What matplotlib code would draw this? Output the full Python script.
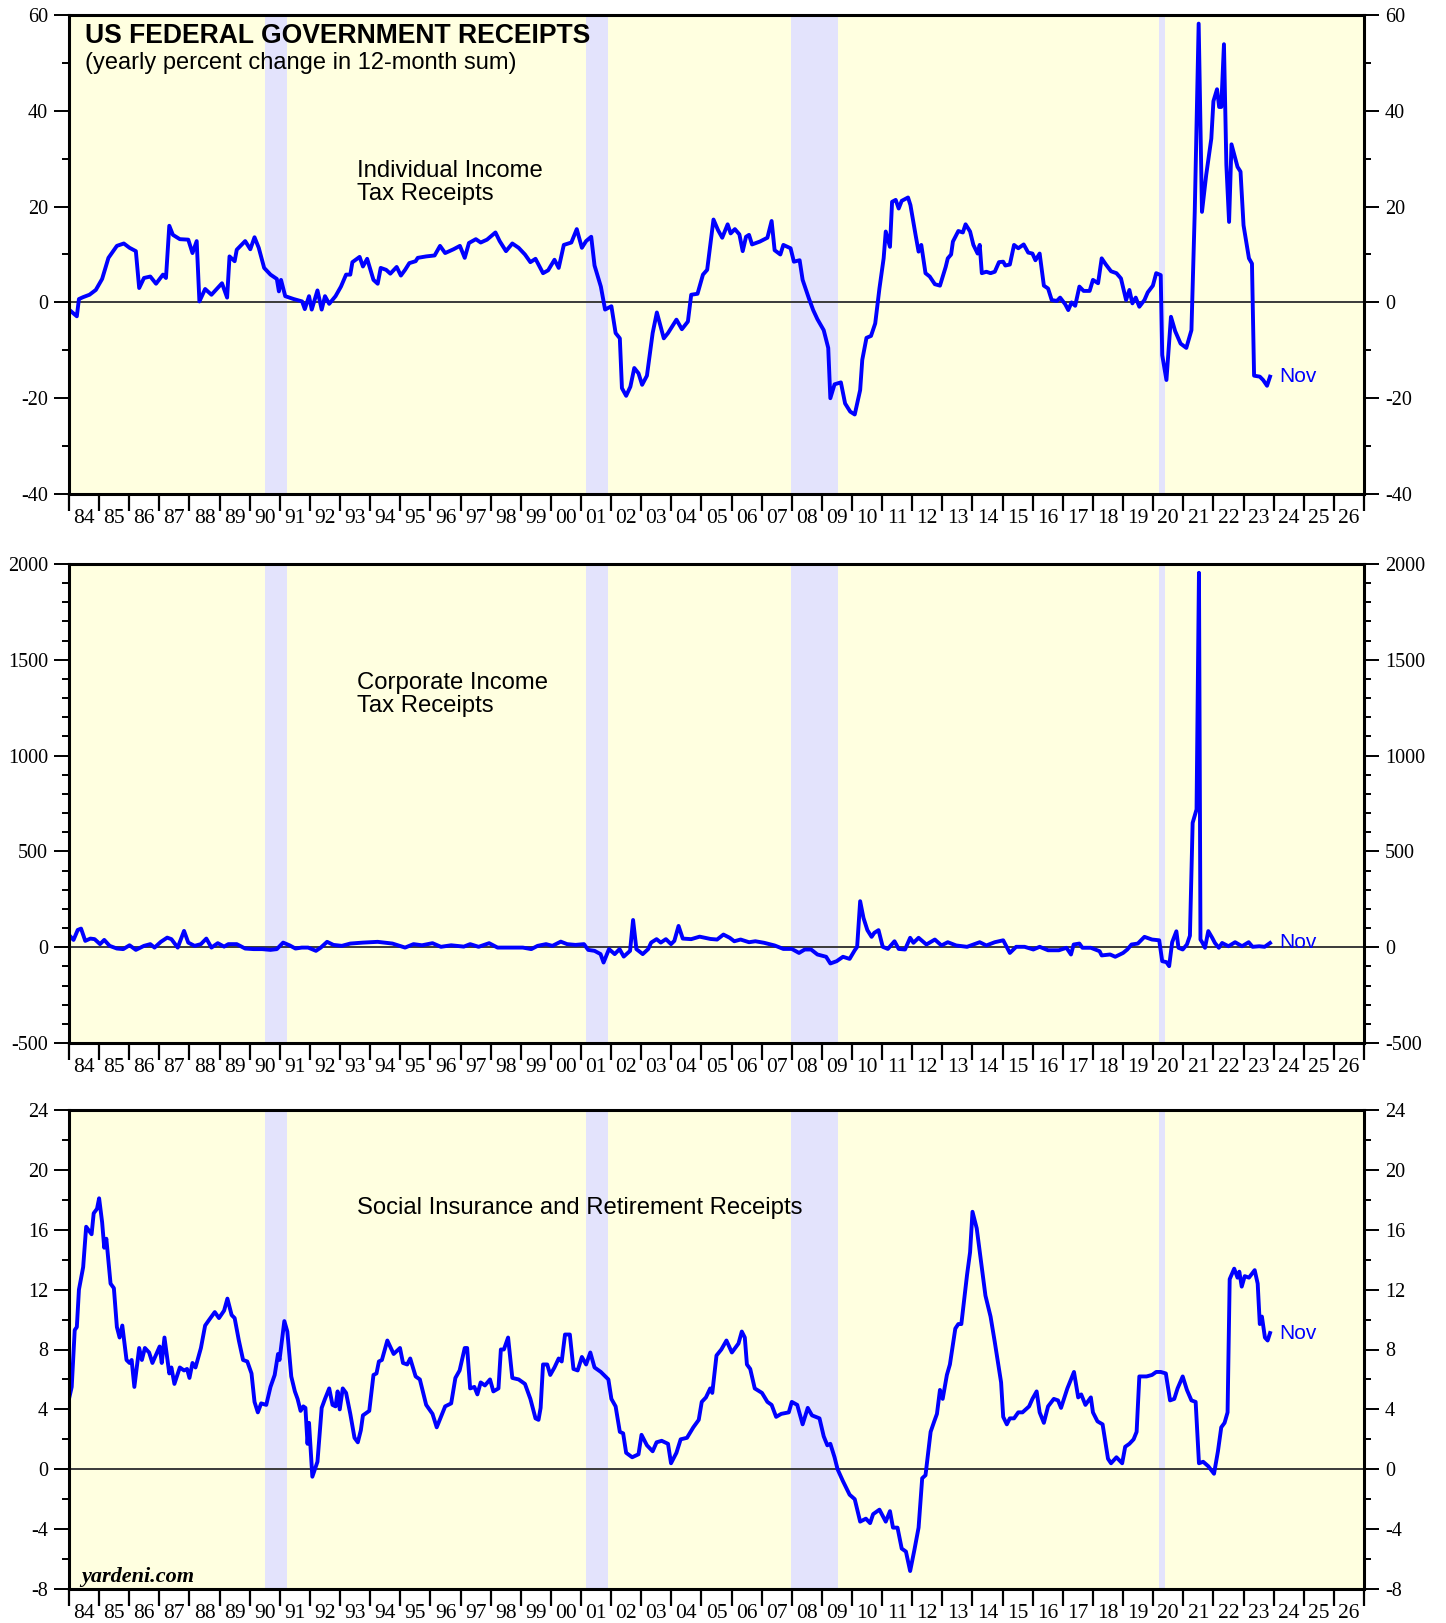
import numpy as np
import matplotlib
matplotlib.use("Agg")
import matplotlib.pyplot as plt
from matplotlib.ticker import MultipleLocator

plt.rcParams["axes.unicode_minus"] = False

# individual income tax receipts, yearly % change in 12-month sum
inc_t = [1984.00, 1984.26, 1984.33, 1984.47, 1984.68, 1984.89, 1985.10, 1985.31, 1985.59, 1985.82,
         1986.01, 1986.22, 1986.33, 1986.49, 1986.70, 1986.89, 1987.12, 1987.22, 1987.33, 1987.45,
         1987.68, 1987.96, 1988.10, 1988.24, 1988.33, 1988.52, 1988.73, 1989.08, 1989.25, 1989.33,
         1989.50, 1989.57, 1989.85, 1990.02, 1990.16, 1990.30, 1990.48, 1990.69, 1990.90, 1990.97,
         1991.04, 1991.18, 1991.46, 1991.74, 1991.83, 1991.97, 1992.06, 1992.25, 1992.39, 1992.50,
         1992.64, 1992.85, 1993.03, 1993.20, 1993.34, 1993.41, 1993.65, 1993.76, 1993.90, 1994.11,
         1994.25, 1994.35, 1994.53, 1994.67, 1994.88, 1995.02, 1995.16, 1995.30, 1995.51, 1995.58,
         1995.86, 1996.14, 1996.32, 1996.49, 1996.77, 1996.98, 1997.14, 1997.28, 1997.51, 1997.67,
         1997.88, 1998.16, 1998.30, 1998.51, 1998.72, 1998.93, 1999.14, 1999.32, 1999.49, 1999.74,
         1999.91, 2000.12, 2000.26, 2000.43, 2000.68, 2000.86, 2001.03, 2001.17, 2001.34, 2001.45,
         2001.66, 2001.80, 2002.01, 2002.15, 2002.29, 2002.36, 2002.50, 2002.64, 2002.77, 2002.91,
         2003.03, 2003.19, 2003.38, 2003.52, 2003.75, 2003.89, 2004.17, 2004.35, 2004.55, 2004.66,
         2004.87, 2005.05, 2005.19, 2005.40, 2005.55, 2005.69, 2005.87, 2005.97, 2006.11, 2006.26,
         2006.37, 2006.48, 2006.58, 2006.68, 2006.94, 2007.19, 2007.33, 2007.43, 2007.62, 2007.72,
         2007.96, 2008.07, 2008.26, 2008.36, 2008.57, 2008.71, 2008.85, 2009.06, 2009.21, 2009.28,
         2009.42, 2009.63, 2009.77, 2009.94, 2010.09, 2010.27, 2010.34, 2010.48, 2010.63, 2010.77,
         2010.91, 2011.05, 2011.12, 2011.26, 2011.33, 2011.45, 2011.55, 2011.65, 2011.86, 2011.94,
         2012.11, 2012.21, 2012.30, 2012.44, 2012.58, 2012.75, 2012.92, 2013.11, 2013.18, 2013.29,
         2013.35, 2013.53, 2013.68, 2013.77, 2013.92, 2014.03, 2014.17, 2014.24, 2014.31, 2014.46,
         2014.60, 2014.74, 2014.88, 2015.02, 2015.09, 2015.24, 2015.38, 2015.52, 2015.70, 2015.85,
         2015.99, 2016.09, 2016.23, 2016.37, 2016.51, 2016.63, 2016.80, 2016.91, 2017.08, 2017.18,
         2017.29, 2017.41, 2017.55, 2017.69, 2017.89, 2018.00, 2018.17, 2018.29, 2018.43, 2018.60,
         2018.78, 2018.93, 2019.02, 2019.10, 2019.21, 2019.31, 2019.42, 2019.54, 2019.71, 2019.82,
         2019.99, 2020.10, 2020.25, 2020.30, 2020.44, 2020.59, 2020.73, 2020.91, 2021.10, 2021.27,
         2021.38, 2021.51, 2021.62, 2021.76, 2021.93, 2022.00, 2022.12, 2022.19, 2022.26, 2022.35,
         2022.43, 2022.52, 2022.60, 2022.80, 2022.90, 2023.00, 2023.18, 2023.28, 2023.35, 2023.54,
         2023.65, 2023.78, 2023.88]
inc_v = [-1.5, -2.9, 0.7, 1.1, 1.6, 2.6, 4.9, 9.3, 11.8, 12.3,
         11.4, 10.7, 3.0, 5.1, 5.4, 3.9, 5.8, 5.1, 16.0, 14.1,
         13.2, 13.1, 10.3, 12.8, 0.2, 2.8, 1.6, 4.0, 1.0, 9.6,
         8.6, 11.0, 12.8, 11.1, 13.6, 11.4, 7.2, 5.8, 4.9, 2.3,
         4.7, 1.3, 0.7, 0.2, -1.4, 1.3, -1.5, 2.5, -1.5, 1.3,
         -0.3, 1.3, 3.3, 5.8, 5.8, 8.4, 9.5, 7.5, 9.1, 4.7,
         3.9, 7.2, 6.8, 6.0, 7.4, 5.6, 6.8, 8.2, 8.6, 9.3,
         9.6, 9.8, 11.8, 10.3, 11.1, 11.8, 9.3, 12.4, 13.2, 12.5,
         13.1, 14.6, 12.8, 10.7, 12.3, 11.4, 10.0, 8.4, 9.1, 6.1,
         6.7, 8.9, 7.2, 12.0, 12.5, 15.3, 11.4, 12.8, 13.7, 7.7,
         3.3, -1.5, -0.8, -6.4, -7.5, -17.9, -19.5, -17.6, -13.7, -14.8,
         -17.2, -15.3, -6.4, -2.1, -7.5, -6.4, -3.6, -5.6, -4.0, 1.6,
         1.8, 5.8, 6.8, 17.3, 15.1, 13.5, 16.3, 14.4, 15.3, 14.2,
         10.7, 13.7, 14.1, 12.1, 12.7, 13.5, 17.0, 10.9, 10.0, 12.0,
         11.3, 8.5, 8.8, 4.7, 0.8, -1.6, -3.5, -5.8, -9.5, -20.0,
         -17.1, -16.7, -21.1, -22.8, -23.4, -18.3, -12.0, -7.4, -7.0, -4.4,
         2.9, 9.2, 14.8, 11.6, 21.0, 21.4, 19.6, 21.2, 21.9, 20.3,
         14.1, 10.6, 12.0, 6.1, 5.4, 3.8, 3.5, 7.4, 9.2, 10.0,
         12.7, 14.9, 14.6, 16.3, 14.8, 12.0, 10.2, 12.0, 6.1, 6.4,
         6.1, 6.4, 8.4, 8.5, 7.7, 7.9, 12.0, 11.3, 12.1, 10.4,
         10.2, 8.8, 10.2, 3.5, 2.9, 0.5, 0.3, 1.0, -0.4, -1.6,
         0.0, -0.7, 3.3, 2.4, 2.4, 4.7, 4.0, 9.2, 7.9, 6.5,
         6.1, 5.0, 2.6, 0.5, 2.6, -0.2, 1.0, -0.9, 0.5, 2.1,
         3.5, 6.1, 5.7, -11.0, -16.2, -3.0, -6.0, -8.6, -9.5, -5.8,
         18.9, 58.2, 18.9, 26.6, 34.2, 42.0, 44.5, 40.8, 40.8, 53.9,
         28.7, 16.8, 33.0, 28.3, 27.3, 16.1, 9.2, 8.1, -15.3, -15.5,
         -16.2, -17.4, -15.5]

# corporate income tax receipts
corp_t = [1984.01, 1984.15, 1984.29, 1984.40, 1984.54, 1984.71, 1984.85, 1985.03, 1985.17, 1985.35,
          1985.59, 1985.80, 1986.01, 1986.22, 1986.49, 1986.70, 1986.84, 1987.05, 1987.26, 1987.40,
          1987.61, 1987.82, 1987.96, 1988.17, 1988.38, 1988.56, 1988.73, 1988.94, 1989.15, 1989.29,
          1989.57, 1989.85, 1990.13, 1990.41, 1990.69, 1990.90, 1991.11, 1991.32, 1991.52, 1991.73,
          1991.94, 1992.20, 1992.36, 1992.57, 1992.78, 1993.06, 1993.34, 1993.76, 1994.25, 1994.74,
          1995.16, 1995.44, 1995.72, 1996.07, 1996.35, 1996.69, 1997.11, 1997.32, 1997.60, 1997.95,
          1998.23, 1998.65, 1999.07, 1999.35, 1999.56, 1999.84, 2000.05, 2000.33, 2000.54, 2000.82,
          2001.10, 2001.24, 2001.45, 2001.65, 2001.75, 2001.93, 2002.12, 2002.28, 2002.42, 2002.63,
          2002.73, 2002.84, 2003.05, 2003.23, 2003.33, 2003.51, 2003.65, 2003.82, 2003.99, 2004.10,
          2004.24, 2004.38, 2004.66, 2004.94, 2005.30, 2005.52, 2005.73, 2005.94, 2006.09, 2006.30,
          2006.58, 2006.79, 2007.08, 2007.43, 2007.72, 2008.00, 2008.24, 2008.43, 2008.64, 2008.85,
          2009.14, 2009.28, 2009.49, 2009.70, 2009.92, 2010.09, 2010.17, 2010.27, 2010.38, 2010.51,
          2010.65, 2010.74, 2010.88, 2011.02, 2011.19, 2011.41, 2011.55, 2011.76, 2011.93, 2012.04,
          2012.21, 2012.47, 2012.75, 2012.97, 2013.18, 2013.46, 2013.82, 2014.24, 2014.46, 2014.74,
          2015.02, 2015.24, 2015.45, 2015.73, 2016.02, 2016.23, 2016.51, 2016.87, 2017.12, 2017.27,
          2017.36, 2017.55, 2017.65, 2017.93, 2018.22, 2018.29, 2018.57, 2018.74, 2019.00, 2019.14,
          2019.28, 2019.49, 2019.71, 2019.96, 2020.20, 2020.30, 2020.44, 2020.53, 2020.63, 2020.77,
          2020.84, 2020.98, 2021.12, 2021.22, 2021.31, 2021.44, 2021.52, 2021.57, 2021.64, 2021.72,
          2021.83, 2021.96, 2022.05, 2022.18, 2022.29, 2022.50, 2022.72, 2022.95, 2023.17, 2023.30,
          2023.52, 2023.70, 2023.88]
corp_v = [62, 38, 90, 97, 33, 45, 42, 16, 38, 7,
          -7, -10, 10, -14, 7, 16, -2, 28, 50, 42,
          -2, 85, 24, 7, 16, 45, -2, 21, 3, 16,
          16, -7, -10, -10, -14, -10, 24, 10, -7, -2,
          -2, -19, -2, 28, 12, 7, 19, 24, 28, 19,
          -2, 16, 10, 21, 2, 10, 3, 16, 2, 21,
          -2, -2, -2, -10, 7, 16, 7, 29, 16, 12,
          16, -14, -19, -36, -80, -10, -36, -10, -49, -19,
          142, -10, -36, -10, 24, 42, 24, 42, 16, 33,
          111, 45, 42, 55, 43, 40, 66, 49, 31, 40,
          26, 31, 23, 9, -9, -9, -30, -12, -12, -38,
          -50, -85, -73, -50, -61, -16, 2, 240, 153, 89,
          54, 75, 89, 2, -9, 31, -9, -12, 49, 23,
          49, 14, 40, 9, 26, 9, 2, 26, 9, 26,
          36, -30, 2, 2, -12, 2, -16, -16, -3, -38,
          14, 19, -3, -3, -21, -43, -38, -50, -30, -12,
          14, 19, 54, 40, 36, -73, -78, -99, 26, 83,
          -3, -12, 14, 60, 649, 719, 1954, 40, 22, -3,
          84, 49, 22, -3, 22, 5, 26, 5, 26, 2,
          5, 2, 22]

# social insurance and retirement receipts
soc_t = [1984.00, 1984.09, 1984.19, 1984.26, 1984.33, 1984.47, 1984.57, 1984.75, 1984.82, 1984.93,
         1985.00, 1985.10, 1985.17, 1985.24, 1985.38, 1985.49, 1985.59, 1985.68, 1985.77, 1985.91,
         1986.01, 1986.08, 1986.17, 1986.33, 1986.42, 1986.52, 1986.66, 1986.77, 1987.01, 1987.08,
         1987.17, 1987.33, 1987.40, 1987.50, 1987.68, 1987.82, 1987.92, 1988.00, 1988.10, 1988.20,
         1988.38, 1988.52, 1988.66, 1988.84, 1988.98, 1989.15, 1989.26, 1989.40, 1989.50, 1989.64,
         1989.78, 1989.92, 1990.06, 1990.16, 1990.27, 1990.38, 1990.55, 1990.69, 1990.83, 1990.94,
         1990.99, 1991.15, 1991.25, 1991.38, 1991.50, 1991.59, 1991.69, 1991.78, 1991.85, 1991.92,
         1991.97, 1992.08, 1992.25, 1992.39, 1992.50, 1992.64, 1992.75, 1992.85, 1992.92, 1992.99,
         1993.09, 1993.20, 1993.34, 1993.48, 1993.59, 1993.69, 1993.76, 1993.97, 1994.11, 1994.21,
         1994.29, 1994.39, 1994.57, 1994.78, 1994.99, 1995.09, 1995.23, 1995.33, 1995.51, 1995.65,
         1995.86, 1996.07, 1996.21, 1996.35, 1996.49, 1996.69, 1996.83, 1996.97, 1997.14, 1997.22,
         1997.32, 1997.46, 1997.56, 1997.67, 1997.81, 1997.98, 1998.09, 1998.26, 1998.34, 1998.44,
         1998.58, 1998.72, 1998.93, 1999.14, 1999.32, 1999.49, 1999.59, 1999.66, 1999.74, 1999.88,
         1999.98, 2000.12, 2000.26, 2000.36, 2000.47, 2000.63, 2000.75, 2000.89, 2001.03, 2001.17,
         2001.31, 2001.45, 2001.66, 2001.91, 2002.01, 2002.15, 2002.29, 2002.40, 2002.50, 2002.70,
         2002.91, 2003.01, 2003.19, 2003.38, 2003.51, 2003.68, 2003.89, 2003.99, 2004.17, 2004.31,
         2004.52, 2004.73, 2004.91, 2005.01, 2005.15, 2005.29, 2005.36, 2005.50, 2005.66, 2005.83,
         2006.01, 2006.23, 2006.34, 2006.44, 2006.51, 2006.62, 2006.77, 2007.01, 2007.19, 2007.33,
         2007.48, 2007.65, 2007.90, 2008.00, 2008.18, 2008.36, 2008.53, 2008.67, 2008.92, 2009.06,
         2009.18, 2009.28, 2009.42, 2009.52, 2009.70, 2009.92, 2010.09, 2010.27, 2010.46, 2010.60,
         2010.70, 2010.91, 2011.12, 2011.26, 2011.36, 2011.51, 2011.65, 2011.79, 2011.93, 2012.07,
         2012.21, 2012.33, 2012.44, 2012.61, 2012.73, 2012.82, 2012.92, 2013.01, 2013.15, 2013.25,
         2013.43, 2013.53, 2013.63, 2013.82, 2013.92, 2014.00, 2014.14, 2014.43, 2014.60, 2014.74,
         2014.95, 2015.02, 2015.14, 2015.24, 2015.38, 2015.52, 2015.66, 2015.88, 2015.99, 2016.13,
         2016.23, 2016.37, 2016.51, 2016.70, 2016.84, 2016.94, 2017.15, 2017.37, 2017.51, 2017.61,
         2017.75, 2017.93, 2018.00, 2018.15, 2018.32, 2018.50, 2018.60, 2018.78, 2018.97, 2019.07,
         2019.21, 2019.35, 2019.45, 2019.54, 2019.78, 2019.96, 2020.10, 2020.25, 2020.42, 2020.56,
         2020.70, 2020.81, 2020.98, 2021.12, 2021.27, 2021.41, 2021.52, 2021.66, 2021.83, 2022.02,
         2022.15, 2022.26, 2022.37, 2022.47, 2022.54, 2022.69, 2022.80, 2022.86, 2022.94, 2023.04,
         2023.18, 2023.37, 2023.47, 2023.54, 2023.61, 2023.71, 2023.80, 2023.88]
soc_v = [4.7, 5.5, 9.3, 9.5, 12.0, 13.5, 16.2, 15.7, 17.1, 17.4,
         18.1, 16.5, 14.8, 15.4, 12.4, 12.1, 9.5, 8.8, 9.6, 7.3,
         7.1, 7.3, 5.5, 8.1, 7.3, 8.1, 7.8, 7.1, 8.2, 7.1,
         8.8, 6.4, 6.8, 5.7, 6.8, 6.6, 6.7, 6.1, 7.1, 6.8,
         8.1, 9.6, 10.0, 10.5, 10.1, 10.6, 11.4, 10.3, 10.1, 8.6,
         7.3, 7.2, 6.4, 4.5, 3.8, 4.4, 4.3, 5.5, 6.3, 7.7,
         7.3, 9.9, 9.2, 6.2, 5.2, 4.7, 3.9, 4.2, 4.1, 1.7,
         3.1, -0.5, 0.5, 4.1, 4.7, 5.4, 4.3, 4.2, 5.2, 4.0,
         5.4, 5.1, 3.7, 2.1, 1.8, 2.6, 3.6, 3.9, 6.3, 6.4,
         7.2, 7.3, 8.6, 7.7, 8.1, 7.1, 7.0, 7.4, 6.2, 6.0,
         4.3, 3.7, 2.8, 3.5, 4.2, 4.4, 6.1, 6.6, 8.1, 8.1,
         5.4, 5.5, 5.0, 5.8, 5.6, 6.0, 5.2, 5.4, 8.0, 8.0,
         8.8, 6.1, 6.0, 5.7, 4.7, 3.4, 3.3, 4.1, 7.0, 7.0,
         6.3, 6.8, 7.4, 7.2, 9.0, 9.0, 6.7, 6.6, 7.5, 7.0,
         7.8, 6.8, 6.5, 6.0, 4.7, 4.2, 2.5, 2.4, 1.1, 0.8,
         1.0, 2.3, 1.6, 1.2, 1.8, 1.9, 1.7, 0.4, 1.1, 2.0,
         2.1, 2.8, 3.3, 4.5, 4.8, 5.4, 5.1, 7.6, 8.0, 8.6,
         7.8, 8.4, 9.2, 8.8, 7.0, 6.7, 5.4, 5.1, 4.5, 4.3,
         3.5, 3.7, 3.8, 4.5, 4.3, 3.0, 4.1, 3.6, 3.4, 2.2,
         1.6, 1.7, 0.8, 0.0, -0.8, -1.7, -2.0, -3.5, -3.3, -3.6,
         -3.0, -2.7, -3.5, -2.8, -3.9, -3.9, -5.3, -5.5, -6.8, -5.4,
         -3.9, -0.6, -0.4, 2.5, 3.2, 3.7, 5.3, 4.7, 6.3, 7.0,
         9.4, 9.7, 9.7, 13.0, 14.5, 17.2, 16.1, 11.6, 10.2, 8.5,
         5.8, 3.5, 3.0, 3.4, 3.4, 3.8, 3.8, 4.2, 4.7, 5.2,
         3.8, 3.1, 4.2, 4.7, 4.6, 4.1, 5.4, 6.5, 4.8, 5.0,
         4.3, 4.8, 3.8, 3.2, 3.0, 0.7, 0.4, 0.8, 0.4, 1.5,
         1.7, 2.0, 2.5, 6.2, 6.2, 6.3, 6.5, 6.5, 6.4, 4.6,
         4.7, 5.4, 6.2, 5.3, 4.6, 4.5, 0.4, 0.5, 0.2, -0.3,
         1.2, 2.8, 3.1, 3.8, 12.7, 13.4, 12.8, 13.2, 12.2, 12.9,
         12.8, 13.3, 12.4, 9.7, 10.2, 8.8, 8.6, 9.1]

# recessions (start, end)
recessions = [(1990.5, 1991.25), (2001.17, 2001.9), (2007.98, 2009.52), (2020.2, 2020.38)]

years = np.arange(1984, 2027)
year_labels = ["%02d" % (y % 100) for y in years]

W, H = 1446, 1623
fig = plt.figure(figsize=(W / 100, H / 100), dpi=100)

sans = "Liberation Sans"
serif = "Liberation Serif"
blue = "#0000FF"


def panel(top_px, t, v, ylo, yhi, major, minor, label, label_top):
    ax = fig.add_axes([69 / W, 1 - (top_px + 479) / H, 1295 / W, 479 / H])
    ax.set_facecolor("#FFFFE0")
    for a, b in recessions:
        ax.axvspan(a, b, color="#E3E3FC", lw=0, zorder=1)
    ax.axhline(0, color="#3a3a3a", lw=1.4, zorder=2)
    ax.plot(t, v, color=blue, lw=2.8, zorder=3)
    ax.text(t[-1] + 0.3, v[-1], "Nov", color=blue, fontsize=15, family=sans,
            va="center", ha="left", zorder=4)
    ax.text((357 - 69) / 1295, 1 - (label_top - top_px) / 479, label,
            transform=ax.transAxes, fontsize=17.2, family=sans, va="top", ha="left",
            linespacing=1.05, zorder=4)

    ax.set_xlim(1984, 2027)
    ax.set_ylim(ylo, yhi)
    ax.set_xticks(np.arange(1984, 2028))
    ax.set_xticklabels([])
    ax.set_xticks(years + 0.5, minor=True)
    ax.set_xticklabels(year_labels, minor=True, fontsize=15.5, family=serif)
    ax.tick_params(axis="x", which="major", direction="out", length=12.5, width=1.6,
                   color="black")
    ax.tick_params(axis="x", which="minor", length=0, pad=11)

    ax.yaxis.set_major_locator(MultipleLocator(major))
    ax.yaxis.set_minor_locator(MultipleLocator(minor))
    ax.tick_params(axis="y", which="both", left=True, right=True,
                   labelleft=True, labelright=True, direction="out", width=1.4,
                   labelsize=14.5, pad=4)
    ax.tick_params(axis="y", which="major", length=11)
    ax.tick_params(axis="y", which="minor", length=5)
    for lab in ax.get_yticklabels():
        lab.set_family(serif)
    for s in ax.spines.values():
        s.set_linewidth(2.2)
        s.set_zorder(5)
    return ax


ax1 = panel(15, inc_t, inc_v, -40, 60, 20, 10, "Individual Income\nTax Receipts", 160)
ax2 = panel(564, corp_t, corp_v, -500, 2000, 500, 100, "Corporate Income\nTax Receipts", 672)
ax3 = panel(1110, soc_t, soc_v, -8, 24, 4, 2, "Social Insurance and Retirement Receipts", 1197)

fig.text(85 / W, 1 - 23 / H, "US FEDERAL GOVERNMENT RECEIPTS", fontsize=19.1,
         family=sans, weight="bold", va="top", ha="left")
fig.text(85 / W, 1 - 52 / H, "(yearly percent change in 12-month sum)", fontsize=17,
         family=sans, va="top", ha="left")
fig.text(81 / W, 1 - 1582 / H, "yardeni.com", fontsize=16, family=serif,
         weight="bold", style="italic", va="baseline", ha="left")

fig.savefig("out.png", dpi=100)
